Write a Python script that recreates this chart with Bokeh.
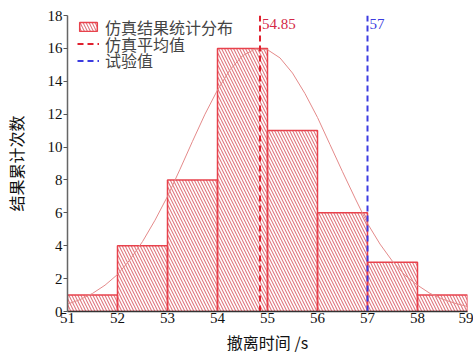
from bokeh.plotting import figure
from bokeh.models import ColumnDataSource, FixedTicker, Legend, LegendItem
from bokeh.embed import file_html
from bokeh.resources import INLINE
from bokeh.core.properties import value

# ---- data ----
bin_left = [51, 52, 53, 54, 55, 56, 57, 58]
bin_right = [52, 53, 54, 55, 56, 57, 58, 59]
counts = [1, 4, 8, 16, 11, 6, 3, 1]

curve_x = [51, 51.25, 51.5, 51.75, 52, 52.25, 52.5, 52.75, 53, 53.25, 53.5, 53.75,
           54, 54.25, 54.5, 54.75, 55, 55.25, 55.5, 55.75, 56, 56.25, 56.5, 56.75,
           57, 57.25, 57.5, 57.75, 58, 58.25, 58.5, 58.75, 59]
curve_y = [0.45, 0.72, 1.1, 1.6, 2.25, 3.15, 4.25, 5.55, 7.0, 8.65, 10.35, 12.0,
           13.47, 14.7, 15.55, 15.96, 15.92, 15.42, 14.5, 13.25, 11.8, 10.15, 8.5, 6.9,
           5.35, 4.1, 3.05, 2.2, 1.6, 1.1, 0.75, 0.5, 0.3]

mean_value = 54.85
test_value = 57
mean_label = "54.85"
test_label = "57"

x_ticks = [51, 52, 53, 54, 55, 56, 57, 58, 59]
y_ticks = [0, 2, 4, 6, 8, 10, 12, 14, 16, 18]
x_min, x_max = 51, 59
y_min, y_max = 0, 18

legend_labels = ["仿真结果统计分布", "仿真平均值", "试验值"]
x_label = "撤离时间 /s"
y_label = "结果累计次数"

SERIF = "Liberation Serif"
CJK = "Noto Sans CJK SC"

p = figure(width=473, height=356, x_range=(x_min, x_max), y_range=(y_min, y_max),
           output_backend="svg", toolbar_location=None,
           min_border_left=67, min_border_right=6, min_border_top=15, min_border_bottom=44)
p.outline_line_color = None
p.xgrid.visible = False
p.ygrid.visible = False
p.background_fill_color = "white"
p.border_fill_color = "white"

src = ColumnDataSource(dict(left=bin_left, right=bin_right, top=counts))
bars = p.quad(left="left", right="right", bottom=0, top="top", source=src,
              fill_alpha=0, hatch_pattern="\\", hatch_color="#e07880", hatch_scale=6,
              hatch_weight=1.1, line_color="#e8424c", line_width=1.5)

p.line(curve_x, curve_y, line_color="#e48a8a", line_width=1)

mean_r = p.segment(x0=[mean_value], y0=[y_min], x1=[mean_value], y1=[y_max],
                   line_color="#e0202e", line_width=2, line_dash="6 4")
test_r = p.segment(x0=[test_value], y0=[y_min], x1=[test_value], y1=[y_max],
                   line_color="#3c3ce0", line_width=2, line_dash="6 4")

p.text(x=[mean_value], y=[y_max], text=[mean_label], text_color="#d42848",
       text_font=value(SERIF), text_font_size="15px", text_baseline="top",
       x_offset=2, y_offset=3)
p.text(x=[test_value], y=[y_max], text=[test_label], text_color="#3c3ce0",
       text_font=value(SERIF), text_font_size="15px", text_baseline="top",
       x_offset=2, y_offset=3)

renderers = [bars, mean_r, test_r]
legend_bottoms = [272.5, 255.5, 239]
for lab, r, yb in zip(legend_labels, renderers, legend_bottoms):
    lg = Legend(items=[LegendItem(label=lab, renderers=[r])],
                location=(10, yb), margin=0, padding=0, spacing=0,
                glyph_width=22, glyph_height=11, label_height=18, label_standoff=6,
                label_text_font=CJK, label_text_font_size="16px",
                border_line_alpha=0, background_fill_alpha=0)
    p.add_layout(lg)

xa = p.xaxis[0]
xa.ticker = FixedTicker(ticks=x_ticks)
xa.major_tick_out = 0
xa.major_tick_in = 0
xa.minor_tick_line_color = None
xa.axis_line_color = "#333333"
xa.axis_line_width = 1.5
xa.major_label_text_font = SERIF
xa.major_label_text_font_size = "15px"
xa.major_label_text_color = "#111111"
xa.major_label_standoff = 1
xa.axis_label = x_label
xa.axis_label_text_font = CJK
xa.axis_label_text_font_size = "16px"
xa.axis_label_text_font_style = "normal"
xa.axis_label_text_color = "#111111"
xa.axis_label_standoff = 4

ya = p.yaxis[0]
ya.ticker = FixedTicker(ticks=y_ticks)
ya.major_tick_out = 4
ya.major_tick_in = 0
ya.major_tick_line_color = "#555555"
ya.minor_tick_line_color = None
ya.axis_line_color = "#666666"
ya.axis_line_width = 1.5
ya.major_label_text_font = SERIF
ya.major_label_text_font_size = "15px"
ya.major_label_text_color = "#111111"
ya.major_label_standoff = 1
ya.axis_label = y_label
ya.axis_label_text_font = CJK
ya.axis_label_text_font_size = "16px"
ya.axis_label_text_font_style = "normal"
ya.axis_label_text_color = "#111111"
ya.axis_label_standoff = 17

open("out.html", "w").write(file_html(p, INLINE))
